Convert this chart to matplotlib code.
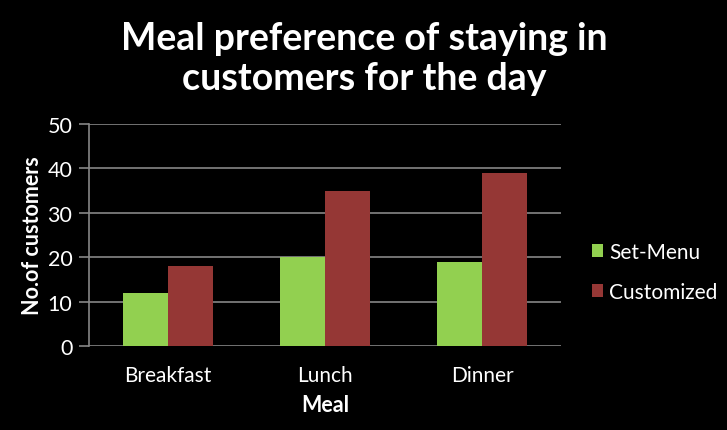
import matplotlib
matplotlib.use("Agg")
import matplotlib.pyplot as plt
import numpy as np

categories = ["Breakfast", "Lunch", "Dinner"]
set_menu = [12, 20, 19]
customized = [18, 35, 39]
series_names = ["Set-Menu", "Customized"]
yticks = [0, 10, 20, 30, 40, 50]

plt.rcParams['font.family'] = ['Lato', 'DejaVu Sans']

fig = plt.figure(figsize=(7.27, 4.31), dpi=100, facecolor='black')
ax = fig.add_axes([89/727, 1-347/431, (561-89)/727, (347-125)/431])
ax.set_facecolor('black')

x = np.arange(len(categories))
w = 0.286
grid_c = '#868686'
ax.set_axisbelow(True)
ax.yaxis.grid(True, color=grid_c, linewidth=1.2)
b1 = ax.bar(x - w/2, set_menu, width=w, color='#92D050', label=series_names[0], zorder=3)
b2 = ax.bar(x + w/2, customized, width=w, color='#953735', label=series_names[1], zorder=3)

ax.set_xlim(-0.5, 2.5)
ax.set_ylim(0, 50)
ax.set_yticks(yticks)
ax.set_xticks(x)
ax.set_xticklabels(categories)
for s in ['top', 'right', 'bottom']:
    ax.spines[s].set_visible(False)
ax.spines['left'].set_color(grid_c)
ax.spines['left'].set_linewidth(1.2)
ax.tick_params(axis='y', colors=grid_c, length=7, width=1.2, labelcolor='white', labelsize=15.5, pad=5)
ax.tick_params(axis='x', length=0, labelcolor='white', labelsize=15, pad=14)

ax.set_xlabel("Meal", color='white', fontsize=15.5, fontweight='bold', labelpad=6)
ax.set_ylabel("No.of customers", color='white', fontsize=15.5, fontweight='bold', labelpad=3)

fig.text(364/727, 1-59/431, "Meal preference of staying in\ncustomers for the day", color='white',
         fontsize=27, fontweight='bold', ha='center', va='center', linespacing=1.2)

leg = fig.legend(handles=[b1, b2], loc='center left', bbox_to_anchor=(573/727, 1-273/431),
                 frameon=False, fontsize=15, labelcolor='white', handlelength=0.55,
                 handleheight=0.55, handletextpad=0.3, labelspacing=0.95)

fig.savefig("out.png", dpi=100, facecolor='black')
